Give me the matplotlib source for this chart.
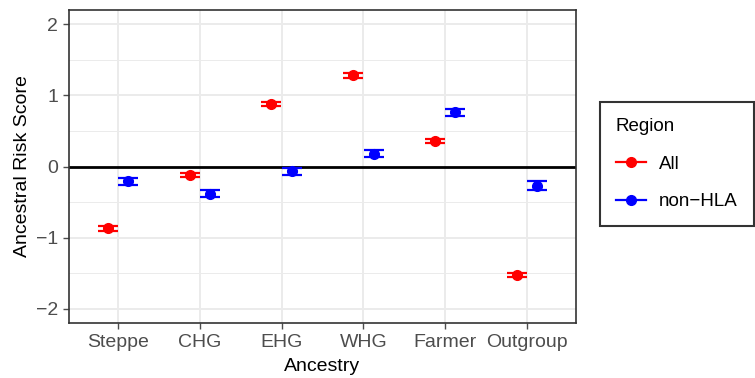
import matplotlib.pyplot as plt
import numpy as np
from matplotlib.lines import Line2D

plt.rcParams['font.family'] = ['Liberation Sans', 'DejaVu Sans']

ancestry = ['Steppe', 'CHG', 'EHG', 'WHG', 'Farmer', 'Outgroup']
all_score = [-0.87, -0.12, 0.88, 1.28, 0.36, -1.53]
all_err = [0.03, 0.03, 0.03, 0.03, 0.03, 0.03]
nonhla_score = [-0.21, -0.38, -0.07, 0.18, 0.76, -0.27]
nonhla_err = [0.05, 0.05, 0.05, 0.05, 0.05, 0.06]

fig = plt.figure(figsize=(7.55, 3.78), dpi=100)
ax = fig.add_axes([69/755, 55/378, 507/755, 313/378])

x = np.arange(1, len(ancestry) + 1)
dodge = 0.125

# grid like ggplot theme_bw
for v in [-1.5, -0.5, 0.5, 1.5]:
    ax.axhline(v, color='#EBEBEB', lw=0.7, zorder=0)
for v in [-2, -1, 1, 2]:
    ax.axhline(v, color='#EBEBEB', lw=1.4, zorder=0)
for v in x:
    ax.axvline(v, color='#EBEBEB', lw=1.4, zorder=0)
ax.axhline(0, color='black', lw=2, zorder=1)

ax.errorbar(x - dodge, all_score, yerr=all_err, fmt='o', color='red', ms=7,
            capsize=7, capthick=1.6, elinewidth=1.6, zorder=3)
ax.errorbar(x + dodge, nonhla_score, yerr=nonhla_err, fmt='o', color='blue', ms=7,
            capsize=7, capthick=1.6, elinewidth=1.6, zorder=3)

ax.set_xlim(0.4, 6.6)
ax.set_ylim(-2.2, 2.2)
ax.set_xticks(x)
ax.set_xticklabels(ancestry)
ax.set_yticks([-2, -1, 0, 1, 2])
ax.set_yticklabels(['\u22122', '\u22121', '0', '1', '2'])
ax.tick_params(colors='#4D4D4D', labelsize=14, length=4, width=1, pad=4)
for lab in ax.get_xticklabels() + ax.get_yticklabels():
    lab.set_color('#4D4D4D')
for s in ax.spines.values():
    s.set_color('#333333')
    s.set_linewidth(1.2)
ax.set_xlabel('Ancestry', fontsize=14, labelpad=5)
ax.set_ylabel('Ancestral Risk Score', fontsize=14, labelpad=3)

handles = [Line2D([0], [0], color='red', marker='o', ms=7, lw=1.6),
           Line2D([0], [0], color='blue', marker='o', ms=7, lw=1.6)]
leg = fig.legend(handles, ['All', 'non\u2212HLA'], title='Region',
                 loc='upper left', bbox_to_anchor=(600/755, 1 - 102/378),
                 borderaxespad=0, frameon=True, fancybox=False, edgecolor='black',
                 fontsize=13.5, title_fontsize=13.5, handlelength=1.6,
                 labelspacing=1.1, borderpad=0.85, handletextpad=0.7)
leg.get_frame().set_linewidth(1.5)
leg._legend_box.align = 'left'

fig.savefig('out.png', dpi=100)
